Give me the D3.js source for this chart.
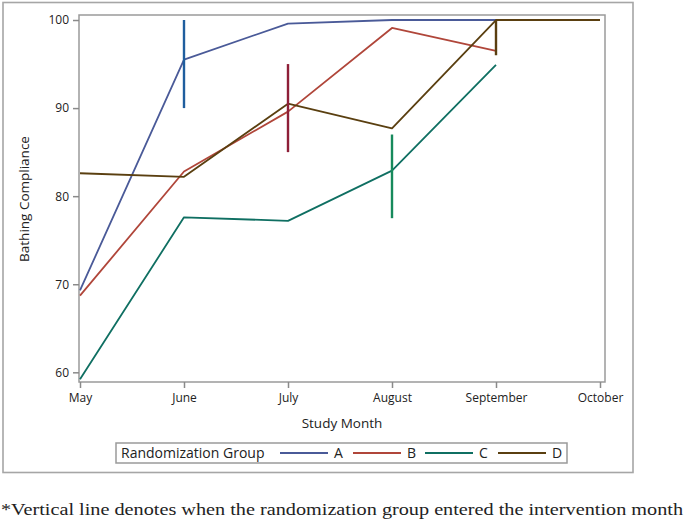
<!DOCTYPE html>
<html>
<head>
<meta charset="utf-8">
<script src="https://cdn.jsdelivr.net/npm/d3@7"></script>
<style>
  html, body { margin: 0; padding: 0; background: #fff; }
  svg { display: block; }
  text { font-family: "Open Sans", "DejaVu Sans", sans-serif; fill: #222; }
</style>
</head>
<body>
<svg id="chart" width="685" height="521"></svg>
<script>
// ---- data ----
const months = ["May", "June", "July", "August", "September", "October"];
const groups = ["A", "B", "C", "D"];
const valuesA = [69.3, 95.5, 99.6, 100, 100];
const valuesB = [68.7, 82.8, 89.6, 99.1, 96.5];
const valuesC = [59.2, 77.6, 77.2, 82.9, 94.9];
const valuesD = [82.6, 82.2, 90.5, 87.7, 100, 100];
const interventionMonth = ["June", "July", "August", "September"];
const interventionLow = [90, 85, 77.5, 96];
const interventionHigh = [100, 95, 87, 100];
const yTicks = [60, 70, 80, 90, 100];

const lineColors = ["#4a5a98", "#b0463a", "#0f6f62", "#5a3f10"];
const markColors = ["#1f5e9e", "#8e1f38", "#178a5c", "#5a3f10"];

const seriesValues = [valuesA, valuesB, valuesC, valuesD];

const svg = d3.select("#chart");

// outer border
svg.append("rect").attr("x", 3).attr("y", 2.5).attr("width", 630).attr("height", 470)
  .attr("fill", "none").attr("stroke", "#a6a6a6").attr("stroke-width", 1.6);

const plot = { left: 79, top: 15, right: 605, bottom: 382 };

const x = d3.scalePoint().domain(months).range([80, 600]).padding(0);
const y = d3.scaleLinear().domain([58.9, 100.57]).range([plot.bottom, plot.top]);

// frame
svg.append("rect").attr("x", plot.left).attr("y", plot.top)
  .attr("width", plot.right - plot.left).attr("height", plot.bottom - plot.top)
  .attr("fill", "none").attr("stroke", "#9a9a9a").attr("stroke-width", 1.5);

// axes
const xAxis = svg.append("g").attr("transform", `translate(0,${plot.bottom})`)
  .call(d3.axisBottom(x).tickSize(6).tickPadding(5));
const yAxis = svg.append("g").attr("transform", `translate(${plot.left},0)`)
  .call(d3.axisLeft(y).tickValues(yTicks).tickSize(6).tickPadding(4));
[xAxis, yAxis].forEach(g => {
  g.select(".domain").remove();
  g.selectAll(".tick line").attr("stroke", "#8a8a8a").attr("stroke-width", 1.5);
  g.selectAll(".tick text").attr("font-size", 12).style("font-family", "'Open Sans', sans-serif").attr("fill", "#222");
});

// axis titles
svg.append("text").attr("x", 342).attr("y", 428).attr("text-anchor", "middle")
  .attr("font-size", 13.5).text("Study Month");
svg.append("text").attr("transform", "translate(29,199) rotate(-90)").attr("text-anchor", "middle")
  .attr("font-size", 13.5).text("Bathing Compliance");

// lines
svg.append("clipPath").attr("id", "plotclip").append("rect")
  .attr("x", plot.left).attr("y", plot.top - 1).attr("width", plot.right - plot.left).attr("height", plot.bottom - plot.top + 1);

const lineGen = d3.line().x((d, i) => x(months[i])).y(d => y(d));
const g = svg.append("g").attr("clip-path", "url(#plotclip)");
seriesValues.forEach((vals, k) => {
  g.append("path").datum(vals).attr("d", lineGen)
    .attr("fill", "none").attr("stroke", lineColors[k]).attr("stroke-width", 1.8)
    .attr("stroke-linejoin", "round");
});

// intervention marks
groups.forEach((grp, k) => {
  g.append("line")
    .attr("x1", x(interventionMonth[k])).attr("x2", x(interventionMonth[k]))
    .attr("y1", y(interventionLow[k])).attr("y2", y(interventionHigh[k]))
    .attr("stroke", markColors[k]).attr("stroke-width", 2.4);
});

// legend
svg.append("rect").attr("x", 116).attr("y", 443).attr("width", 451).attr("height", 20)
  .attr("fill", "none").attr("stroke", "#9a9a9a").attr("stroke-width", 1.5);
svg.append("text").attr("x", 121).attr("y", 458).attr("font-size", 14).text("Randomization Group");
const legendStart = [280, 353, 425, 498];
groups.forEach((grp, k) => {
  svg.append("line").attr("x1", legendStart[k]).attr("x2", legendStart[k] + 48)
    .attr("y1", 453).attr("y2", 453).attr("stroke", lineColors[k]).attr("stroke-width", 1.8);
  svg.append("text").attr("x", legendStart[k] + 54).attr("y", 458).attr("font-size", 14).text(grp);
});

// footnote
svg.append("text").attr("x", 1).attr("y", 515)
  .style("font-family", "'Liberation Serif', 'Times New Roman', serif")
  .attr("font-size", 16).attr("textLength", 682).attr("lengthAdjust", "spacingAndGlyphs")
  .text("*Vertical line denotes when the randomization group entered the intervention month");
</script>
</body>
</html>
